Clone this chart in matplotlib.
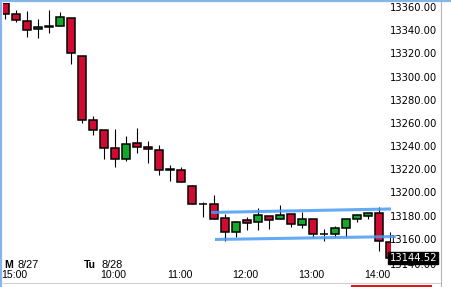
import matplotlib
matplotlib.use("Agg")
import matplotlib.pyplot as plt
from matplotlib.patches import Rectangle
from matplotlib.transforms import blended_transform_factory

# 10-minute candles, Mon 8/27 15:00 -> Tue 8/28 14:00
opens = [13364.0, 13354.6, 13348.5, 13341.6, 13344.6, 13344.2, 13351.1, 13318.3, 13263.4, 13254.7,
         13239.2, 13229.5, 13243.3, 13240.1, 13237.2, 13220.8, 13219.9, 13206.2, 13191.2, 13190.6,
         13178.6, 13166.5, 13176.8, 13175.1, 13180.3, 13178.2, 13182.3, 13172.5, 13177.6, 13164.7,
         13164.7, 13169.9, 13177.6, 13180.3, 13182.9, 13158.1]
highs = [13366.0, 13358.3, 13357.4, 13350.5, 13358.3, 13356.5, 13351.1, 13318.3, 13266.8, 13254.7,
         13255.6, 13249.6, 13256.5, 13245.2, 13241.8, 13224.5, 13222.8, 13207.3, 13192.6, 13198.7,
         13182.5, 13176.2, 13179.7, 13187.4, 13180.3, 13190.3, 13182.3, 13184.0, 13177.6, 13169.1,
         13171.9, 13177.6, 13182.5, 13182.9, 13188.0, 13166.6]
lows = [13350.8, 13348.2, 13335.2, 13334.4, 13338.7, 13344.2, 13312.0, 13261.0, 13250.7, 13229.9,
        13223.1, 13228.3, 13235.2, 13226.5, 13215.6, 13211.0, 13209.6, 13191.1, 13180.0, 13177.6,
        13158.7, 13162.7, 13168.5, 13168.2, 13169.1, 13178.2, 13170.8, 13170.4, 13162.7, 13159.3,
        13162.7, 13162.7, 13175.1, 13178.2, 13150.1, 13140.6]
closes = [13354.6, 13349.4, 13340.8, 13343.3, 13343.8, 13352.0, 13320.9, 13263.1, 13254.5, 13238.9,
          13229.5, 13242.4, 13239.8, 13238.1, 13220.4, 13220.2, 13209.6, 13191.1, 13190.7, 13177.6,
          13166.5, 13175.1, 13174.8, 13181.1, 13177.4, 13181.1, 13173.4, 13177.6, 13164.7, 13164.7,
          13169.9, 13177.6, 13181.1, 13182.9, 13158.7, 13144.52]

time_idx = [1, 10, 16, 22, 28, 34]
time_labels = ["15:00", "10:00", "11:00", "12:00", "13:00", "14:00"]
day_idx = [-0.12, 7.15]
day_names = ["M", "Tu"]
day_dates = ["8/27", "8/28"]
price_ticks = list(range(13140, 13361, 20))

# drawn trend channel (candle index, price)
upper_line = ([18.7, 35.06], [13183.6, 13186.6])
lower_line = ([19.06, 35.5], [13160.3, 13162.8])

W, H = 451, 287
fig = plt.figure(figsize=(W / 100, H / 100), dpi=100)
fig.patch.set_facecolor("white")

ax = fig.add_axes([3 / W, 5 / H, 388 / W, 279 / H])
ax.set_xlim(-0.21, 35.06)
ax.set_ylim(13123.6, 13364.3)
ax.axis("off")

red = "#d00a30"
green = "#14a82a"
bw = 0.72
for i in range(len(opens)):
    o, h, l, c = opens[i], highs[i], lows[i], closes[i]
    ax.vlines(i, l, h, color="black", lw=0.8, zorder=2)
    col = green if c > o else red
    ax.add_patch(Rectangle((i - bw / 2, min(o, c)), bw, abs(c - o),
                           facecolor=col, edgecolor="black", lw=1.1, zorder=3))

for line in (upper_line, lower_line):
    ax.plot(line[0], line[1], color="#4a9cf2", lw=2.2, alpha=0.85,
            solid_capstyle="butt", clip_on=False, zorder=4)

# price scale on the right
ytr = blended_transform_factory(fig.transFigure, ax.transData)
for p in price_ticks:
    ax.text(437 / W, p - (1.5 if p == 13140 else 0), "%.2f" % p, transform=ytr,
            ha="right", va="center", fontsize=7.2, family="DejaVu Sans",
            color="black", clip_on=False)
ax.text(437 / W, closes[-1], "%.2f" % closes[-1], transform=ytr, ha="right", va="center",
        fontsize=7.2, family="DejaVu Sans", color="white", clip_on=False, zorder=6,
        bbox=dict(boxstyle="square,pad=0.12", facecolor="black", edgecolor="black"))

# time axis
xtr = blended_transform_factory(ax.transData, fig.transFigure)
for i, t in zip(time_idx, time_labels):
    ax.text(i - 0.15, 1 - 274.5 / H, t, transform=xtr, ha="center", va="center",
            fontsize=7.6, family="Liberation Sans", clip_on=False)
for i, n, d in zip(day_idx, day_names, day_dates):
    ax.text(i, 1 - 265.5 / H, n, transform=xtr, ha="left", va="center",
            fontsize=7.6, family="Liberation Sans", weight="bold", clip_on=False)
    ax.text(i + (1.2 if n == "M" else 1.55), 1 - 265.5 / H, d, transform=xtr, ha="left",
            va="center", fontsize=7.9, family="Liberation Sans", clip_on=False)

# window frame bits
fig.add_artist(plt.Line2D([0, 1], [1 - 0.8 / H, 1 - 0.8 / H], color="#86b6e8", lw=1.6))
fig.add_artist(plt.Line2D([0.8 / W, 0.8 / W], [0, 1], color="#86b6e8", lw=1.6))
fig.add_artist(plt.Line2D([440.5 / W, 440.5 / W], [0, 1 - 2 / H], color="#b4b4b4", lw=0.8))
fig.add_artist(plt.Line2D([3 / W, 440 / W], [1 - 282.5 / H, 1 - 282.5 / H], color="#d0d0d0", lw=0.8))
fig.add_artist(Rectangle((351 / W, 0), 81 / W, 1.6 / H, transform=fig.transFigure,
                         facecolor="#e01818", edgecolor="none"))

fig.savefig("out.png", dpi=100)
